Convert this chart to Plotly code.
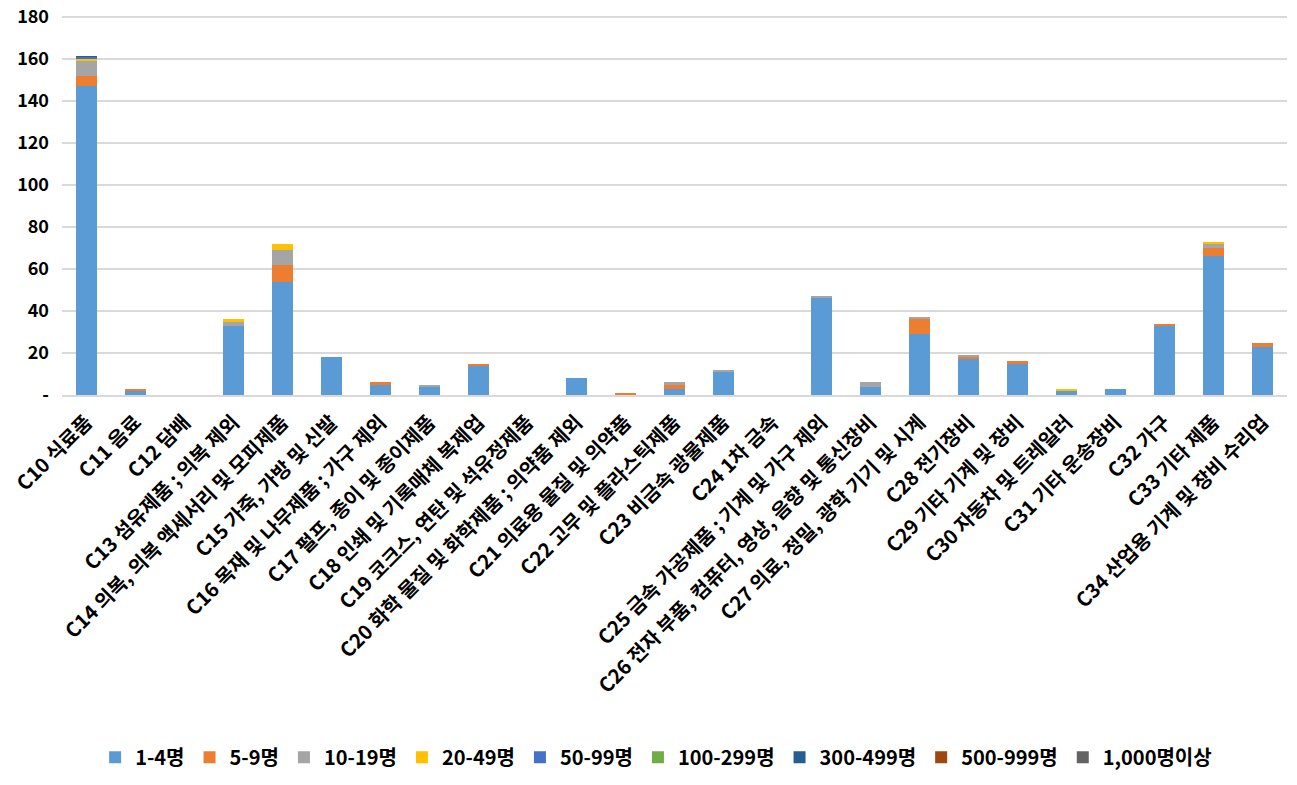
import plotly.graph_objects as go

categories = [
    "C10 식료품", "C11 음료", "C12 담배", "C13 섬유제품 ; 의복 제외",
    "C14 의복, 의복 액세서리 및 모피제품", "C15 가죽, 가방 및 신발",
    "C16 목재 및 나무제품 ; 가구 제외", "C17 펄프, 종이 및 종이제품",
    "C18 인쇄 및 기록매체 복제업", "C19 코크스, 연탄 및 석유정제품",
    "C20 화학 물질 및 화학제품 ; 의약품 제외", "C21 의료용 물질 및 의약품",
    "C22 고무 및 플라스틱제품", "C23 비금속 광물제품", "C24 1차 금속",
    "C25 금속 가공제품 ; 기계 및 가구 제외",
    "C26 전자 부품, 컴퓨터, 영상, 음향 및 통신장비",
    "C27 의료, 정밀, 광학 기기 및 시계", "C28 전기장비", "C29 기타 기계 및 장비",
    "C30 자동차 및 트레일러", "C31 기타 운송장비", "C32 가구", "C33 기타 제품",
    "C34 산업용 기계 및 장비 수리업",
]

s_1_4     = [147, 2, 0, 33, 54, 18, 5, 4, 14, 0, 8, 0, 3, 11, 0, 46, 4, 29, 17, 15, 2, 3, 33, 66, 23]
s_5_9     = [5, 1, 0, 0, 8, 0, 1, 0, 1, 0, 0, 1, 2, 0, 0, 0, 0, 7, 1, 1, 0, 0, 1, 4, 2]
s_10_19   = [7, 0, 0, 2, 7, 0, 0, 1, 0, 0, 0, 0, 1, 1, 0, 1, 2, 1, 1, 0, 0, 0, 0, 2, 0]
s_20_49   = [1, 0, 0, 1, 3, 0, 0, 0, 0, 0, 0, 0, 0, 0, 0, 0, 0, 0, 0, 0, 1, 0, 0, 1, 0]
s_50_99   = [1, 0, 0, 0, 0, 0, 0, 0, 0, 0, 0, 0, 0, 0, 0, 0, 0, 0, 0, 0, 0, 0, 0, 0, 0]
s_100_299 = [0] * 25
s_300_499 = [0.3] + [0] * 24
s_500_999 = [0] * 25
s_1000    = [0] * 25

series = [
    ("1-4명", s_1_4, "#5B9BD5"),
    ("5-9명", s_5_9, "#ED7D31"),
    ("10-19명", s_10_19, "#A5A5A5"),
    ("20-49명", s_20_49, "#FFC000"),
    ("50-99명", s_50_99, "#4472C4"),
    ("100-299명", s_100_299, "#70AD47"),
    ("300-499명", s_300_499, "#255E91"),
    ("500-999명", s_500_999, "#9E480E"),
    ("1,000명이상", s_1000, "#636363"),
]

y_ticks = [0, 20, 40, 60, 80, 100, 120, 140, 160, 180]
y_ticktext = ["-", "20", "40", "60", "80", "100", "120", "140", "160", "180"]

fig = go.Figure()
for name, vals, color in series:
    fig.add_trace(go.Bar(name=name, x=categories, y=vals, marker_color=color,
                         marker_line_width=0))

font_family = "Noto Sans CJK KR"
fig.update_layout(
    barmode="stack",
    bargap=0.59,
    width=1297, height=785,
    margin=dict(l=62, r=10, t=15, b=389),
    plot_bgcolor="white", paper_bgcolor="white",
    font=dict(family=font_family, size=18, color="#000000", weight="bold"),
    legend=dict(orientation="h", x=0.485, xanchor="center", y=-0.948, yanchor="middle",
                font=dict(size=20, family=font_family, weight="bold"),
                traceorder="normal", itemwidth=30),
    xaxis=dict(tickangle=-45, tickfont=dict(size=20, family=font_family, weight="bold"),
               showline=True, linecolor="#D9D9D9", linewidth=1.5, ticks="",
               automargin=False, ticklabelstandoff=6, ticklabeloverflow="allow"),
    yaxis=dict(range=[0, 181], tickvals=y_ticks, ticktext=y_ticktext,
               showgrid=True, gridcolor="#D9D9D9", gridwidth=1.5, zeroline=False,
               tickfont=dict(size=18, family=font_family, weight="bold"), ticks="",
               ticklabelstandoff=12, automargin=False, ticklabeloverflow="allow"),
)
fig.write_html("out.html", config={"displayModeBar": False},
               post_script="document.body.style.margin='0';document.body.style.overflow='hidden';")
